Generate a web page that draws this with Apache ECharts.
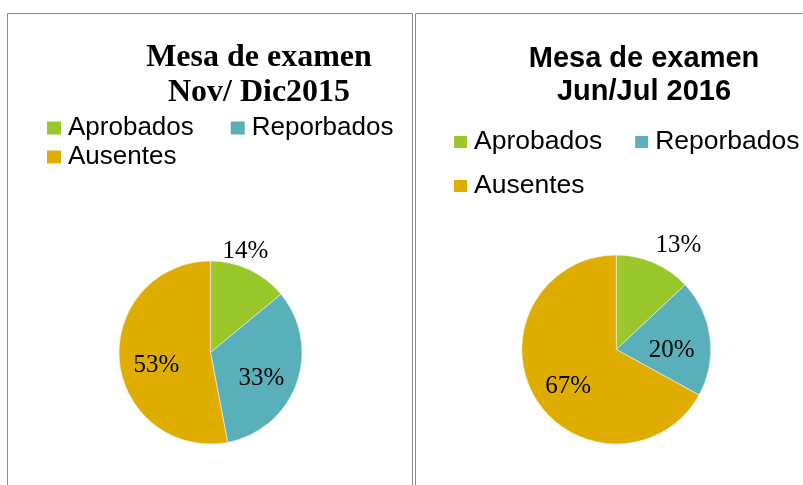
<!DOCTYPE html>
<html>
<head>
<meta charset="utf-8">
<script src="https://cdn.jsdelivr.net/npm/echarts@6/dist/echarts.min.js"></script>
<style>
  html, body { margin: 0; padding: 0; background: #fff; }
  #chart { width: 803px; height: 485px; }
</style>
</head>
<body>
<div id="chart"></div>
<script>
// data
const categories = ['Aprobados', 'Reporbados', 'Ausentes'];
const valuesNovDic = [14, 33, 53];
const valuesJunJul = [13, 20, 67];
const titleNovDic = 'Mesa de examen\nNov/ Dic2015';
const titleJunJul = 'Mesa de examen\nJun/Jul 2016';
const colors = ['#9AC82A', '#5AB0BA', '#DFAD00'];

const chart = echarts.init(document.getElementById('chart'));

const serif = '"Liberation Serif", "Times New Roman", serif';
const sans = '"Liberation Sans", Arial, sans-serif';

function pieData(values) {
  return values.map((v, i) => ({ name: categories[i], value: v }));
}

// the visible pie, no labels
function pieBody(values, center, r) {
  return {
    type: 'pie',
    center: center,
    radius: r,
    startAngle: 90,
    label: { show: false },
    labelLine: { show: false },
    itemStyle: { borderColor: '#f4f4f4', borderWidth: 0.6 },
    emphasis: { disabled: true },
    data: pieData(values)
  };
}

// transparent copy only used to place the % labels like Excel does
function pieLabels(values, center, r, outLen, outLen2) {
  return {
    type: 'pie',
    center: center,
    radius: [r * 0.12, r],
    startAngle: 90,
    silent: true,
    avoidLabelOverlap: false,
    itemStyle: { color: 'rgba(0,0,0,0)' },
    emphasis: { disabled: true },
    label: {
      show: true,
      position: 'inside',
      formatter: '{c}%',
      fontFamily: serif,
      fontSize: 25,
      color: '#000'
    },
    labelLine: { show: false },
    // inside labels sit a little lower in the original
    labelLayout: function (p) {
      return p.dataIndex === 0 ? {} : { dy: 8 };
    },
    data: values.map((v, i) => {
      const d = { name: categories[i], value: v };
      if (i === 0) {
        // small slice: label sits outside the pie
        d.label = { position: 'outside', alignTo: 'none', distanceToLabelLine: 5 };
        d.labelLine = { show: false, length: outLen, length2: outLen2 };
      }
      return d;
    })
  };
}

function legendRow(names, left, top, size, iw, ih, gap) {
  return {
    data: names,
    left: left,
    top: top,
    orient: 'horizontal',
    padding: 0,
    itemGap: gap,
    itemWidth: iw,
    itemHeight: ih,
    icon: 'rect',
    selectedMode: false,
    itemStyle: { borderWidth: 0 },
    textStyle: {
      fontFamily: sans,
      fontSize: size,
      color: '#000',
      lineHeight: 28,
      padding: [0, 0, 0, 2]
    }
  };
}

const option = {
  color: colors,
  animation: false,
  title: [
    {
      text: titleNovDic,
      left: 259,
      top: 40,
      textAlign: 'center',
      padding: 0,
      textStyle: { fontFamily: serif, fontWeight: 'bold', fontSize: 32, lineHeight: 35, color: '#000' }
    },
    {
      text: titleJunJul,
      left: 644,
      top: 42,
      textAlign: 'center',
      padding: 0,
      textStyle: { fontFamily: sans, fontWeight: 'bold', fontSize: 29, lineHeight: 33, color: '#000' }
    }
  ],
  legend: [
    legendRow(categories.slice(0, 2), 47, 114, 26, 14, 13, 37),
    legendRow(categories.slice(2), 47, 143, 26, 14, 13, 37),
    legendRow(categories.slice(0, 2), 454, 128, 26.5, 13, 12, 33),
    legendRow(categories.slice(2), 454, 172, 26.5, 13, 12, 33)
  ],
  graphic: [
    {
      type: 'rect',
      shape: { x: 7.5, y: 13.5, width: 405, height: 500 },
      style: { fill: 'none', stroke: '#8c8c8c', lineWidth: 1 },
      silent: true
    },
    {
      type: 'rect',
      shape: { x: 415.5, y: 13.5, width: 400, height: 500 },
      style: { fill: 'none', stroke: '#8c8c8c', lineWidth: 1 },
      silent: true
    }
  ],
  series: [
    pieBody(valuesNovDic, [210.5, 352.5], 91.5),
    pieLabels(valuesNovDic, [210.5, 352.5], 91.5, 20, -40.5),
    pieBody(valuesJunJul, [616.3, 349.5], 94.5),
    pieLabels(valuesJunJul, [616.3, 349.5], 94.5, 19, -11)
  ]
};

chart.setOption(option);
</script>
</body>
</html>
